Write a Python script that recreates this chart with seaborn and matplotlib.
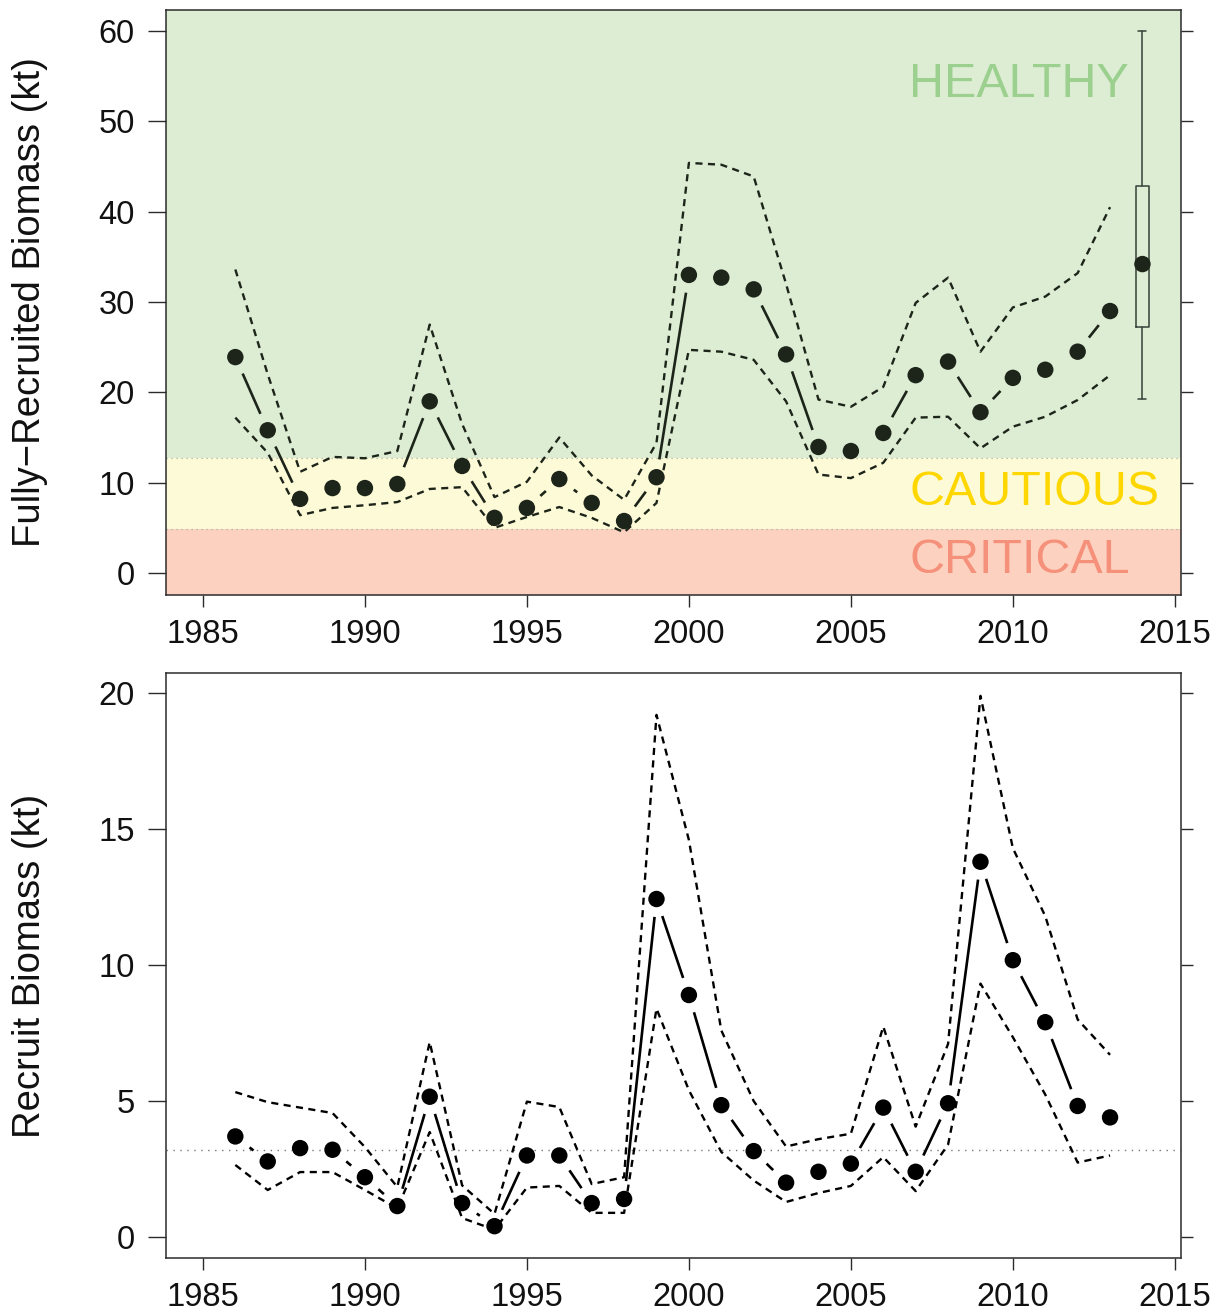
import numpy as np
import matplotlib
matplotlib.use("Agg")
import matplotlib.pyplot as plt
import seaborn as sns

# ---------------- data ----------------
years = list(range(1986, 2014))

fr_mean = [23.9, 15.8, 8.2, 9.4, 9.4, 9.85, 19.0, 11.85, 6.1, 7.2, 10.4, 7.75, 5.75, 10.6,
           33.0, 32.7, 31.4, 24.2, 13.95, 13.5, 15.5, 21.9, 23.4, 17.8, 21.6, 22.5, 24.5, 29.0]
fr_upper = [33.6, 22.0, 11.2, 12.85, 12.7, 13.5, 27.5, 16.5, 8.4, 10.1, 15.0, 10.8, 8.1, 14.4,
            45.4, 45.2, 43.9, 32.0, 19.2, 18.4, 20.6, 29.9, 32.7, 24.5, 29.4, 30.6, 33.2, 40.5]
fr_lower = [17.2, 13.3, 6.4, 7.2, 7.5, 7.85, 9.3, 9.5, 5.0, 6.2, 7.3, 6.1, 4.5, 7.75,
            24.7, 24.5, 23.6, 19.0, 10.9, 10.5, 12.2, 17.2, 17.3, 13.8, 16.2, 17.3, 19.15, 21.9]

proj_year = 2014
proj_stats = {"med": 34.2, "q1": 27.2, "q3": 42.8, "whislo": 19.3, "whishi": 60.0}

zone_limits = [4.9, 12.7]          # critical/cautious, cautious/healthy
zone_names = ["CRITICAL", "CAUTIOUS", "HEALTHY"]

rb_mean = [3.7, 2.78, 3.27, 3.21, 2.2, 1.14, 5.16, 1.25, 0.4, 3.0, 3.0, 1.25, 1.4, 12.43,
           8.9, 4.85, 3.16, 2.0, 2.4, 2.7, 4.76, 2.4, 4.92, 13.8, 10.18, 7.9, 4.82, 4.4]
rb_upper = [5.33, 4.96, 4.76, 4.56, 3.31, 1.84, 7.17, 1.9, 0.85, 4.98, 4.78, 1.95, 2.2, 19.2,
            14.6, 7.6, 5.0, 3.33, 3.6, 3.8, 7.74, 4.06, 7.1, 19.9, 14.3, 11.8, 8.0, 6.7]
rb_lower = [2.65, 1.73, 2.39, 2.39, 1.73, 1.05, 3.86, 0.7, 0.27, 1.82, 1.88, 0.89, 0.89, 8.4,
            5.4, 3.13, 2.08, 1.29, 1.62, 1.88, 2.94, 1.69, 3.4, 9.32, 7.35, 5.24, 2.74, 3.0]
rb_ref = 3.2

x_ticks = [1985, 1990, 1995, 2000, 2005, 2010, 2015]
fr_yticks = [0, 10, 20, 30, 40, 50, 60]
rb_yticks = [0, 5, 10, 15, 20]

# ---------------- style ----------------
sns.set_theme(style="white")
plt.rcParams["font.family"] = ["Liberation Sans", "DejaVu Sans"]

W, H = 1220, 1314
fig = plt.figure(figsize=(W / 100, H / 100), dpi=100)
fig.patch.set_facecolor("white")
ax1 = fig.add_axes([166 / W, 1 - 595 / H, 1015 / W, 585 / H])
ax2 = fig.add_axes([166 / W, 1 - 1258 / H, 1015 / W, 585 / H])

XLIM = (1983.86, 2015.19)
ax1.set_xlim(*XLIM)
ax1.set_ylim(-2.44, 62.33)
ax2.set_xlim(*XLIM)
ax2.set_ylim(-0.77, 20.74)

zone_bg = ["#fdd1bf", "#fdfad7", "#dcedd3"]
zone_txt = ["#f5917a", "#ffd700", "#9bd08e"]
zone_base = [0.0, 7.5, 52.7]

GAP = 18  # px gap around points for R type="b" look


def b_segments(ax, xs, ys, gap, **kw):
    pts = ax.transData.transform(np.column_stack([xs, ys]))
    inv = ax.transData.inverted()
    for p0, p1 in zip(pts[:-1], pts[1:]):
        d = p1 - p0
        L = np.hypot(*d)
        if L > 2 * gap + 3:
            u = d / L
            seg = inv.transform(np.array([p0 + u * gap, p1 - u * gap]))
            ax.plot(seg[:, 0], seg[:, 1], **kw)


def style_axes(ax, yticks):
    ax.set_xticks(x_ticks)
    ax.set_yticks(yticks)
    ax.set_xticklabels([str(t) for t in x_ticks])
    ax.set_yticklabels([str(t) for t in yticks])
    for s in ax.spines.values():
        s.set_visible(True)
        s.set_color("#2b2b2b")
        s.set_linewidth(1.1)
    ax.tick_params(axis="x", bottom=True, top=False, length=8.6, width=1.0,
                   color="#2b2b2b", labelsize=23.5, pad=9, labelcolor="#111111")
    ax.tick_params(axis="y", left=True, right=True, labelleft=True, labelright=False,
                   length=8.6, width=1.0, color="#2b2b2b", labelsize=23.5, pad=14,
                   labelcolor="#111111")
    for t in ax.yaxis.get_major_ticks():
        t.tick1line.set_markersize(13)
        t.tick2line.set_markersize(8.6)
    ax.grid(False)
    ax.set_xlabel("")


# ---------------- top panel ----------------
ylo, yhi = ax1.get_ylim()
bounds = [ylo] + zone_limits + [yhi]
for i in range(3):
    ax1.axhspan(bounds[i], bounds[i + 1], color=zone_bg[i], zorder=0, lw=0)
for z in zone_limits:
    ax1.axhline(z, color="#aab39c", lw=0.9, ls=(0, (1, 3)), zorder=1)
for i in range(3):
    ax1.text(2006.8, zone_base[i], zone_names[i], fontsize=34.8, color=zone_txt[i],
             ha="left", va="baseline", zorder=2)

c_top = "#1d2419"
dash = (0, (3, 2.3))
sns.lineplot(x=years, y=fr_upper, ax=ax1, color=c_top, lw=1.7, linestyle=dash, zorder=3)
sns.lineplot(x=years, y=fr_lower, ax=ax1, color=c_top, lw=1.7, linestyle=dash, zorder=3)
b_segments(ax1, years, fr_mean, GAP, color=c_top, lw=1.9, zorder=3, solid_capstyle="butt")
sns.scatterplot(x=years, y=fr_mean, ax=ax1, s=140, color=c_top, edgecolor="none", zorder=5)

bs = dict(proj_stats)
bs["fliers"] = []
ax1.bxp([bs], positions=[proj_year], widths=0.4, showfliers=False, manage_ticks=False,
        boxprops=dict(color="#34423a", lw=1.1),
        whiskerprops=dict(color="#34423a", lw=1.1, ls="-"),
        capprops=dict(color="#34423a", lw=1.1),
        medianprops=dict(visible=False), capwidths=0.25, zorder=4)
sns.scatterplot(x=[proj_year], y=[proj_stats["med"]], ax=ax1, s=140, color=c_top,
                edgecolor="none", zorder=5)

style_axes(ax1, fr_yticks)
ax1.set_ylabel("Fully\u2212Recruited Biomass (kt)", fontsize=27.5, color="#111111")
ax1.yaxis.set_label_coords(-0.116, 0.5)

# ---------------- bottom panel ----------------
c_bot = "#000000"
ax2.axhline(rb_ref, color="#777777", lw=1.0, ls=(0, (1, 4)), zorder=1)
sns.lineplot(x=years, y=rb_upper, ax=ax2, color=c_bot, lw=1.7, linestyle=dash, zorder=3)
sns.lineplot(x=years, y=rb_lower, ax=ax2, color=c_bot, lw=1.7, linestyle=dash, zorder=3)
b_segments(ax2, years, rb_mean, GAP, color=c_bot, lw=1.9, zorder=3, solid_capstyle="butt")
sns.scatterplot(x=years, y=rb_mean, ax=ax2, s=140, color=c_bot, edgecolor="none", zorder=5)
ax2.set_facecolor("white")

style_axes(ax2, rb_yticks)
ax2.set_ylabel("Recruit Biomass (kt)", fontsize=27.5, color="#111111")
ax2.yaxis.set_label_coords(-0.116, 0.5)

fig.savefig("out.png", dpi=100, facecolor="white")
